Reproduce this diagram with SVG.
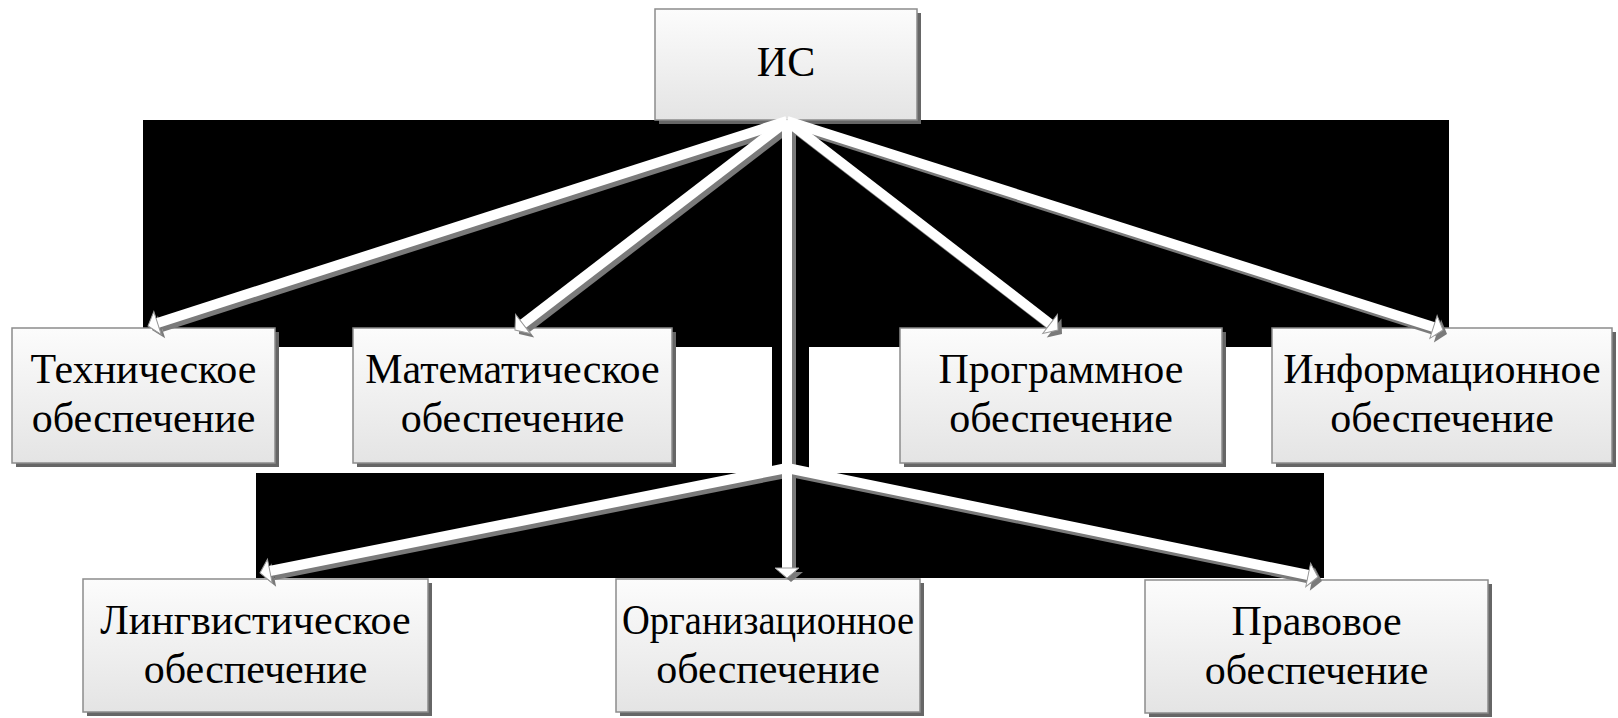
<svg xmlns="http://www.w3.org/2000/svg" width="1618" height="718" viewBox="0 0 1618 718">
<defs>
<linearGradient id="boxg" x1="0" y1="0" x2="0" y2="1">
<stop offset="0" stop-color="#fcfcfc"/>
<stop offset="1" stop-color="#e4e4e4"/>
</linearGradient>
<marker id="hw" markerUnits="userSpaceOnUse" orient="auto" refX="0" refY="0" markerWidth="30" markerHeight="30" overflow="visible">
<path d="M0,-12 L10,0 L0,12 z" fill="#ffffff" stroke="#9a9a9a" stroke-width="1"/>
</marker>
<marker id="hs" markerUnits="userSpaceOnUse" orient="auto" refX="0" refY="0" markerWidth="30" markerHeight="30" overflow="visible">
<path d="M0,-12 L10,0 L0,12 z" fill="#7a7a7a"/>
</marker>
</defs>
<style>
.bg{fill:#000000}
.sh{fill:#666666}
.box{fill:url(#boxg);stroke:#8c8c8c;stroke-width:1.5}
.t{font-family:"Liberation Serif","Times New Roman",serif;font-size:42px;fill:#000000;text-anchor:middle}
.as{stroke:#7a7a7a;stroke-width:10;fill:none;marker-end:url(#hs)}
.aw{stroke:#ffffff;stroke-width:10;fill:none;marker-end:url(#hw)}
</style>
<rect width="1618" height="718" fill="#ffffff"/>
<g id="background">
<rect class="bg" x="143" y="120" width="1306" height="227"/>
<rect class="bg" x="772" y="346" width="37" height="128"/>
<rect class="bg" x="256" y="473" width="1068" height="105"/>
</g>
<g id="node-is">
<rect class="sh" x="659" y="13" width="262" height="111"/>
<rect class="box" x="655" y="9" width="262" height="111"/>
<text class="t" x="786" y="76">ИС</text>
</g>
<g id="node-tech">
<rect class="sh" x="16" y="332" width="263" height="135"/>
<rect class="box" x="12" y="328" width="263" height="135"/>
<text class="t" x="143.5" y="383">Техническое</text>
<text class="t" x="143.5" y="432">обеспечение</text>
</g>
<g id="node-math">
<rect class="sh" x="357" y="332" width="319" height="135"/>
<rect class="box" x="353" y="328" width="319" height="135"/>
<text class="t" x="512.5" y="383">Математическое</text>
<text class="t" x="512.5" y="432">обеспечение</text>
</g>
<g id="node-prog">
<rect class="sh" x="904" y="332" width="322" height="135"/>
<rect class="box" x="900" y="328" width="322" height="135"/>
<text class="t" x="1061" y="383">Программное</text>
<text class="t" x="1061" y="432">обеспечение</text>
</g>
<g id="node-info">
<rect class="sh" x="1276" y="332" width="340" height="135"/>
<rect class="box" x="1272" y="328" width="340" height="135"/>
<text class="t" x="1442" y="383">Информационное</text>
<text class="t" x="1442" y="432">обеспечение</text>
</g>
<g id="node-ling">
<rect class="sh" x="87" y="583" width="345" height="133"/>
<rect class="box" x="83" y="579" width="345" height="133"/>
<text class="t" x="255.5" y="634">Лингвистическое</text>
<text class="t" x="255.5" y="683">обеспечение</text>
</g>
<g id="node-org">
<rect class="sh" x="620" y="583" width="304" height="133"/>
<rect class="box" x="616" y="579" width="304" height="133"/>
<text class="t" x="768" y="634" textLength="292" lengthAdjust="spacingAndGlyphs">Организационное</text>
<text class="t" x="768" y="683">обеспечение</text>
</g>
<g id="node-law">
<rect class="sh" x="1149" y="584" width="343" height="133"/>
<rect class="box" x="1145" y="580" width="343" height="133"/>
<text class="t" x="1316.5" y="635">Правовое</text>
<text class="t" x="1316.5" y="684">обеспечение</text>
</g>
<g id="connectors">
<g transform="translate(4,4)">
<line class="as" x1="787" y1="121" x2="157.5" y2="322.9"/>
<line class="as" x1="787" y1="121" x2="522.9" y2="323.9"/>
<line class="as" x1="787" y1="121" x2="1050.1" y2="323.9"/>
<line class="as" x1="787" y1="121" x2="1433.5" y2="327"/>
<line class="as" x1="787" y1="468" x2="269.8" y2="571"/>
<line class="as" x1="787" y1="468" x2="1308.2" y2="575"/>
<line class="as" x1="787" y1="121" x2="787" y2="568"/>
</g>
<line class="aw" x1="787" y1="121" x2="157.5" y2="322.9"/>
<line class="aw" x1="787" y1="121" x2="522.9" y2="323.9"/>
<line class="aw" x1="787" y1="121" x2="1050.1" y2="323.9"/>
<line class="aw" x1="787" y1="121" x2="1433.5" y2="327"/>
<line class="aw" x1="787" y1="468" x2="269.8" y2="571"/>
<line class="aw" x1="787" y1="468" x2="1308.2" y2="575"/>
<line class="aw" x1="787" y1="121" x2="787" y2="568"/>
</g>
</svg>
